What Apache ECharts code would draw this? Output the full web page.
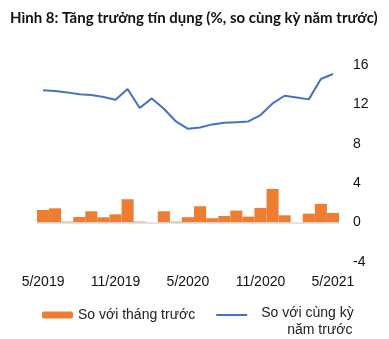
<!DOCTYPE html>
<html>
<head>
<meta charset="utf-8">
<script src="https://cdn.jsdelivr.net/npm/echarts@6/dist/echarts.min.js"></script>
<style>
  html, body { margin: 0; padding: 0; background: #fff; }
  #chart { width: 389px; height: 339px; }
</style>
</head>
<body>
<div id="chart"></div>
<script>
// Months 5/2019 .. 5/2021
const months = [
  '5/2019', '6/2019', '7/2019', '8/2019', '9/2019', '10/2019', '11/2019', '12/2019',
  '1/2020', '2/2020', '3/2020', '4/2020', '5/2020', '6/2020', '7/2020', '8/2020',
  '9/2020', '10/2020', '11/2020', '12/2020', '1/2021', '2/2021', '3/2021', '4/2021', '5/2021'
];

// Credit growth vs previous month (%)
const momGrowth = [
  1.28, 1.45, 0.1, 0.57, 1.15, 0.54, 0.84, 2.37,
  0.1, 0, 1.15, 0.1, 0.55, 1.66, 0.44, 0.67,
  1.22, 0.61, 1.49, 3.42, 0.74, 0, 0.91, 1.9, 0.98
];

// Credit growth vs same period last year (%)
const yoyGrowth = [
  13.43, 13.36, 13.22, 13.02, 12.95, 12.75, 12.47, 13.56,
  11.63, 12.61, 11.56, 10.27, 9.52, 9.66, 9.97, 10.13,
  10.2, 10.27, 10.92, 12.1, 12.88, 12.71, 12.51, 14.58, 15.09
];

const yTicks = { min: -4, max: 16, step: 4 };

const seriesNames = ['So với tháng trước', 'So với cùng kỳ\nnăm trước'];

const labelFont = { fontFamily: 'Liberation Sans', fontSize: 14, color: '#222' };

const chart = echarts.init(document.getElementById('chart'));
chart.setOption({
  animation: false,
  backgroundColor: '#fff',
  title: {
    text: 'Hình 8: Tăng trưởng tín dụng (%, so cùng kỳ năm trước)',
    left: 5,
    top: 6,
    textStyle: {
      fontFamily: 'Lato',
      fontWeight: 'bold',
      fontSize: 15,
      color: '#111'
    }
  },
  grid: { left: 37, right: 50, top: 65, bottom: 77 },
  legend: {
    left: 42,
    top: 291,
    padding: 0,
    itemWidth: 31,
    itemHeight: 7,
    itemGap: 20,
    textStyle: labelFont,
    data: [
      { name: seriesNames[0] },
      {
        name: seriesNames[1],
        itemStyle: { color: 'rgba(0,0,0,0)', borderWidth: 0 },
        textStyle: {
          padding: [14, 0, 0, 9],
          lineHeight: 17,
          rich: {
            a: Object.assign({ lineHeight: 17 }, labelFont),
            b: Object.assign({ lineHeight: 17, padding: [0, 0, 0, 26] }, labelFont)
          }
        }
      }
    ],
    formatter: function (name) {
      if (name === seriesNames[1]) {
        return '{a|So với cùng kỳ}\n{b|năm trước}';
      }
      return name;
    }
  },
  xAxis: {
    type: 'category',
    data: months,
    boundaryGap: true,
    axisLine: { show: false },
    axisTick: { show: false },
    axisLabel: Object.assign({ interval: 5, margin: 13 }, labelFont, { color: '#111' })
  },
  yAxis: {
    type: 'value',
    position: 'right',
    min: yTicks.min,
    max: yTicks.max,
    interval: yTicks.step,
    splitLine: { show: false },
    axisLine: { show: false },
    axisTick: { show: false },
    axisLabel: Object.assign({ margin: 14 }, labelFont, { color: '#111' })
  },
  series: [
    {
      name: seriesNames[0],
      type: 'bar',
      data: momGrowth,
      barCategoryGap: '0%',
      itemStyle: { color: '#ED7D31' },
      markLine: {
        silent: true,
        symbol: 'none',
        label: { show: false },
        lineStyle: { color: '#D9D9D9', type: 'solid', width: 1.5 },
        data: [{ yAxis: 0 }]
      }
    },
    {
      name: seriesNames[1],
      type: 'line',
      data: yoyGrowth,
      symbol: 'none',
      lineStyle: { color: '#4472C4', width: 2 },
      itemStyle: { color: '#4472C4' }
    }
  ]
});
</script>
</body>
</html>
